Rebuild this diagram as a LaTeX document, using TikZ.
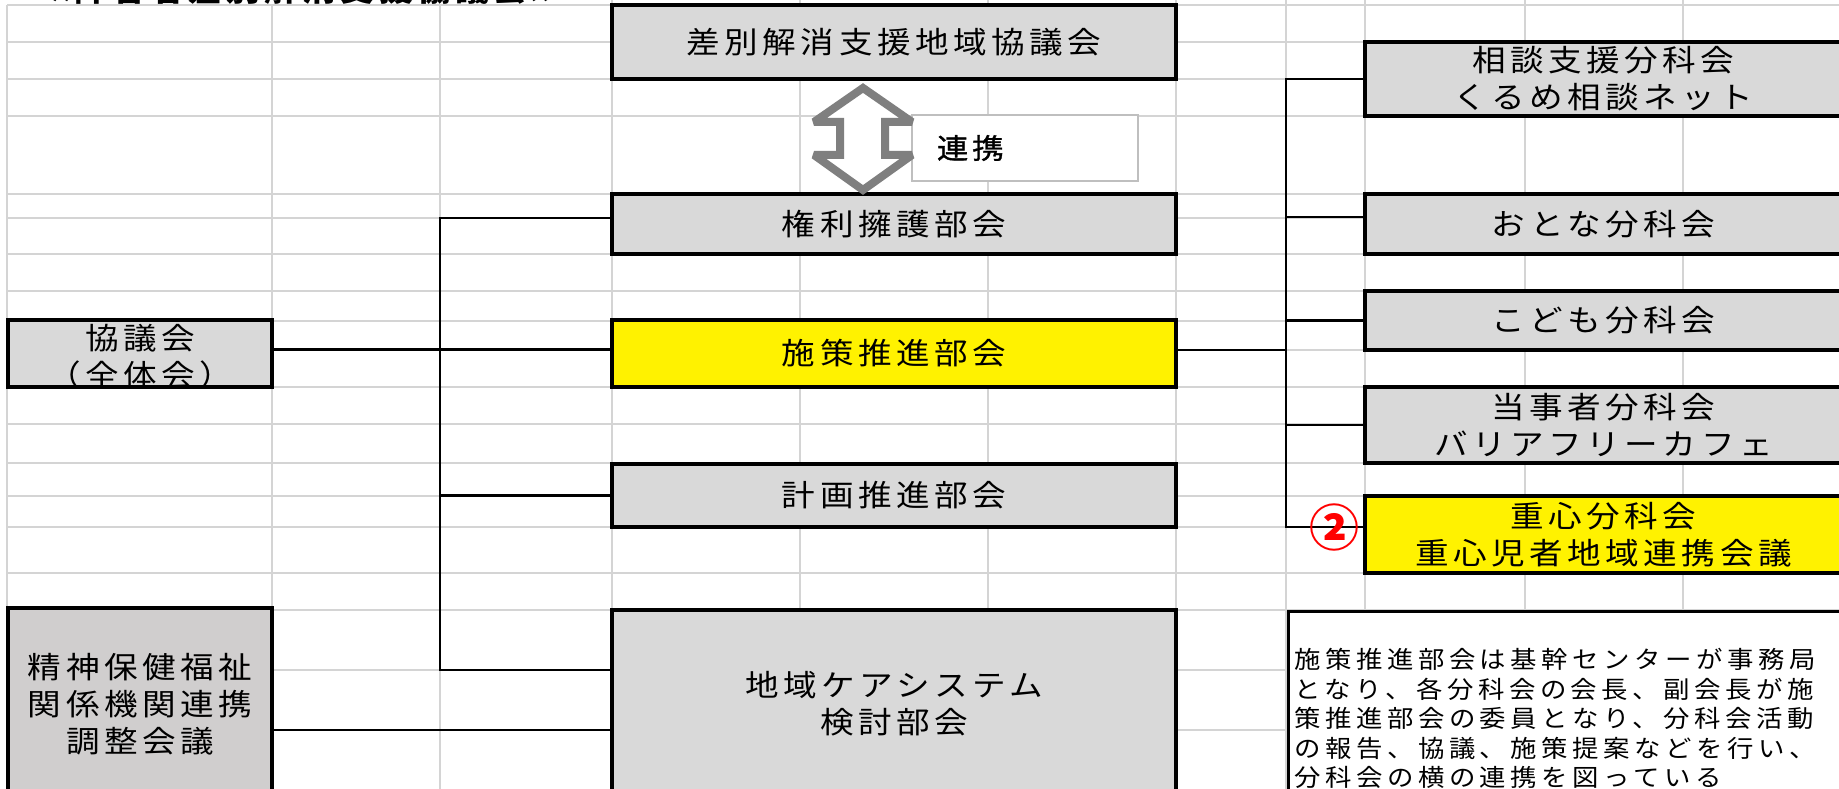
\documentclass[tikz,border=0pt]{standalone}
\usepackage{fontspec}
\setmainfont{Noto Sans CJK JP}
\newfontfamily\bxf{Noto Sans CJK JP}[FakeStretch=1.12,LetterSpace=15]
\newfontfamily\rkf{Noto Sans CJK JP}[FakeStretch=1.12,LetterSpace=14,FakeBold=1.2]
\newfontfamily\dsf{Noto Sans CJK JP}[FakeStretch=1.1,LetterSpace=19]
\newfontfamily\cif{Noto Sans CJK JP}
\definecolor{gridc}{RGB}{212,212,212}
\definecolor{boxg}{RGB}{217,217,217}
\definecolor{boxgb}{RGB}{208,206,206}
\definecolor{arrg}{RGB}{127,127,127}
\definecolor{renb}{RGB}{191,191,191}
\begin{document}
\begin{tikzpicture}[x=1pt,y=-1pt,
  gline/.style={draw=gridc,line width=2pt},
  conn/.style={draw=black,line width=2.7pt},
  box/.style={draw=black,line width=3.2pt,fill=boxg,inner sep=0pt,align=center,font=\bxf\fontsize{30}{37}\selectfont},
  midbox/.style={box,minimum width=564pt},
  rbox/.style={box,minimum width=477pt},
  lbox/.style={box,minimum width=264pt}]
\useasboundingbox (0,0) rectangle (1839,789);
\clip (0,0) rectangle (1839,789);
\fill[white] (0,0) rectangle (1839,789);
% spreadsheet grid
\foreach \y in {5,42,79,116,194,218,254,291,321,350,387,424,463,496,527,573,610,670,730}
  \draw[gline] (7,\y) -- (1839,\y);
\foreach \x in {7,272,440}
  \draw[gline] (\x,5) -- (\x,789);
\foreach \x in {612,800,988,1176,1286,1365,1525,1683}
  \draw[gline] (\x,0) -- (\x,789);
% title (cut off at top)
\node[anchor=base west,inner sep=0pt,font=\bxf\bfseries\fontsize{30}{30}\selectfont] (title) at (36,2) {≪障害者差別解消支援協議会≫};
% middle column
\node[midbox,minimum height=74pt] (sabetsu) at (894,42) {差別解消支援地域協議会};
\node[midbox,minimum height=60pt] (kenri) at (894,224) {権利擁護部会};
\node[midbox,minimum height=67pt,fill=yellow] (shisaku) at (894,353.5) {施策推進部会};
\node[midbox,minimum height=63pt] (keikaku) at (894,495.5) {計画推進部会};
\node[midbox,minimum height=188pt] (chiiki) at (894,704) {地域ケアシステム\\検討部会};
% left column
\node[lbox,minimum height=67pt] (kyogikai) at (140,353.5) {};
\begin{scope}
  \clip (kyogikai.north west) rectangle (kyogikai.south east);
  \node[box,draw=none,fill=none] (kyotext) at ([yshift=-3pt]kyogikai.center) {協議会\\（全体会）};
\end{scope}
\node[lbox,minimum height=192pt,fill=boxgb] (seishin) at (140,704) {精神保健福祉\\関係機関連携\\調整会議};
% right column
\node[rbox,minimum height=74pt] (soudan) at (1603.5,79) {相談支援分科会\\くるめ相談ネット};
\node[rbox,minimum height=60pt] (otona) at (1603.5,224) {おとな分科会};
\node[rbox,minimum height=59pt] (kodomo) at (1603.5,320.5) {こども分科会};
\node[rbox,minimum height=76pt] (touji) at (1603.5,425) {当事者分科会\\バリアフリーカフェ};
\node[rbox,minimum height=77pt,fill=yellow] (juushin) at (1603.5,534.5) {重心分科会\\重心児者地域連携会議};
% description box
\node[draw=black,line width=3.2pt,fill=white,minimum width=560pt,minimum height=200pt,anchor=north west,inner sep=0pt] (desc) at (1287,610) {};
\node[anchor=north west,inner sep=0pt,align=left,font=\dsf\fontsize{24}{29.5}\selectfont] (desctext) at (1294,648)
 {施策推進部会は基幹センターが事務局\\となり、各分科会の会長、副会長が施\\策推進部会の委員となり、分科会活動\\の報告、協議、施策提案などを行い、\\分科会の横の連携を図っている};
% renkei label box
\node[draw=renb,line width=1.5pt,fill=white,minimum height=66pt,text width=226pt,inner xsep=0pt,inner ysep=0pt,align=left,font=\rkf\fontsize{28}{28}\selectfont] (renkei) at (1025,148) {\hspace*{25pt}連携};
% double block arrow
\draw[draw=arrg,line width=8pt,fill=white,line join=miter,miter limit=2]
  (863,88) -- (912,122) -- (885,122) -- (885,155) -- (912,155) -- (863,190)
  -- (814,155) -- (840,155) -- (840,122) -- (814,122) -- cycle;
% connectors, left trunk
\coordinate (LT) at (440,0);
\coordinate (kL) at ([yshift=6pt]kenri.west);
\coordinate (cL) at ([yshift=34pt]chiiki.west);
\draw[conn] (kL) -- (kL -| LT) -- (cL -| LT) -- (cL);
\draw[conn] ([yshift=4pt]kyogikai.east) -- ([yshift=4pt]shisaku.west);
\draw[conn] (keikaku.west -| LT) -- (keikaku.west);
\coordinate (sjR) at ([yshift=-26pt]seishin.east);
\draw[conn] (sjR) -- (sjR -| chiiki.west);
% connectors, right trunk
\coordinate (RT) at (1286,0);
\coordinate (sR) at ([yshift=3.5pt]shisaku.east);
\draw[conn] (sR) -- (sR -| RT);
\coordinate (oL) at ([yshift=7pt]otona.west);
\coordinate (jL) at ([yshift=7.5pt]juushin.west);
\draw[conn] (soudan.west) -- (soudan.west -| RT) -- (jL -| RT) -- (jL);
\draw[conn] (oL -| RT) -- (oL);
\draw[conn] (kodomo.west -| RT) -- (kodomo.west);
\draw[conn] (touji.west -| RT) -- (touji.west);
% circled number
\node[text=red,inner sep=0pt,font=\cif\bfseries\fontsize{50}{50}\selectfont] (maru) at (1334,527) {②};
\end{tikzpicture}
\end{document}
